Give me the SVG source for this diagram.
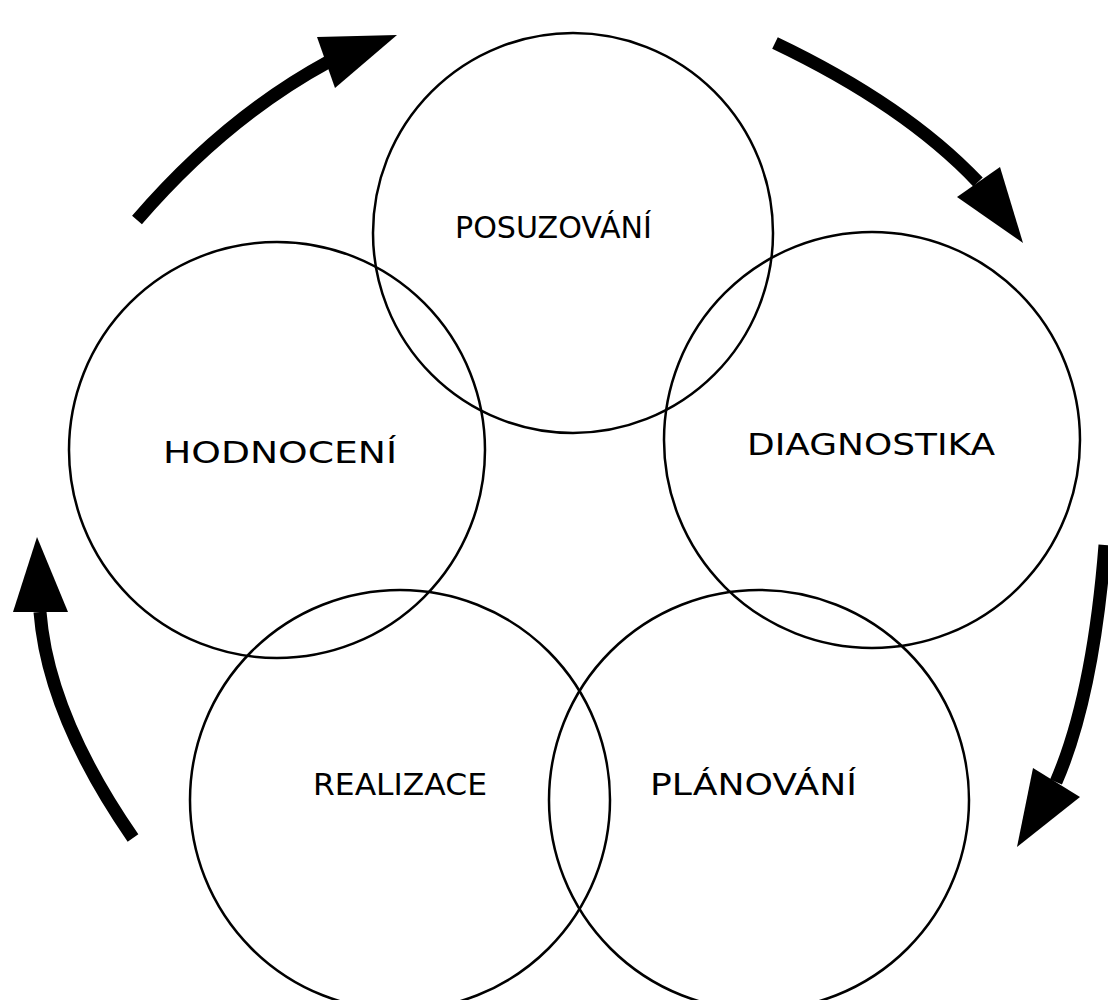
<svg xmlns="http://www.w3.org/2000/svg" width="1108" height="1000" viewBox="0 0 1108 1000">
<style>
.c{fill:none;stroke:#000;stroke-width:2.5}
.t{font-family:"DejaVu Sans","Liberation Sans",sans-serif;font-size:30px;fill:#000;text-anchor:middle}
.s{fill:none;stroke:#000;stroke-width:13}
.h{fill:#000}
</style>
<rect width="1108" height="1000" fill="#fff"/>
<g id="connectors">
<path class="s" d="M137,220 Q225,118 328,62"/>
<polygon class="h" points="397,35 317,37 335,88"/>
<path class="s" d="M775,43 Q905,105 978,182"/>
<polygon class="h" points="1023,243 1000,167 957,197"/>
<path class="s" d="M1105,545 Q1093,697 1056,782"/>
<polygon class="h" points="1017,847 1033,768 1080,797"/>
<path class="s" d="M133,838 Q48,715 40,612"/>
<polygon class="h" points="37,537 13,612 68,612"/>
</g>
<g id="posuzovani"><circle class="c" cx="573" cy="233" r="200"/><text class="t" x="553.5" y="238" textLength="197" lengthAdjust="spacingAndGlyphs">POSUZOVÁNÍ</text></g>
<g id="diagnostika"><circle class="c" cx="872" cy="440" r="208"/><text class="t" x="871" y="455" textLength="248" lengthAdjust="spacingAndGlyphs">DIAGNOSTIKA</text></g>
<g id="hodnoceni"><circle class="c" cx="277" cy="450" r="208"/><text class="t" x="280" y="463" textLength="234" lengthAdjust="spacingAndGlyphs">HODNOCENÍ</text></g>
<g id="realizace"><circle class="c" cx="400" cy="800" r="210"/><text class="t" x="400" y="795" textLength="174" lengthAdjust="spacingAndGlyphs">REALIZACE</text></g>
<g id="planovani"><circle class="c" cx="759" cy="800" r="210"/><text class="t" x="753.5" y="795" textLength="207" lengthAdjust="spacingAndGlyphs">PLÁNOVÁNÍ</text></g>
</svg>
